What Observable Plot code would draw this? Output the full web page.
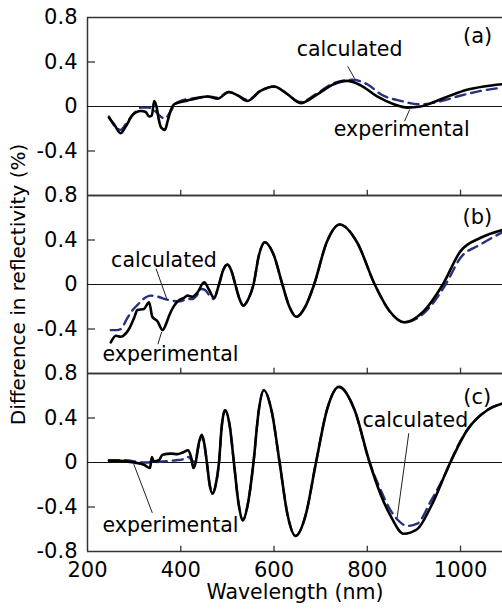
<!DOCTYPE html>
<html>
<head>
<meta charset="utf-8">
<script src="https://cdn.jsdelivr.net/npm/d3@7"></script>
<script src="https://cdn.jsdelivr.net/npm/@observablehq/plot@0.6"></script>
<style>
  html, body { margin: 0; padding: 0; background: #fff; overflow: hidden; }
</style>
</head>
<body>
<div id="chart"></div>
<script>
// ---- data (wavelength nm, difference in reflectivity %) ----
const panels = ["a", "b", "c"];
const expA = [[246,-0.10],[257,-0.16],[271,-0.24],[282,-0.18],[296,-0.08],[305,-0.05],[314,-0.04],[325,-0.05],[332,-0.09],[338,-0.08],[343,0.05],[348,0.00],[353,-0.12],[358,-0.19],[366,-0.21],[372,-0.13],[378,-0.04],[386,0.02],[400,0.04],[421,0.06],[440,0.08],[457,0.09],[479,0.07],[503,0.13],[522,0.10],[543,0.05],[571,0.14],[600,0.18],[629,0.11],[657,0.03],[693,0.11],[728,0.20],[757,0.23],[786,0.19],[821,0.09],[857,0.02],[886,-0.01],[914,0.00],[943,0.04],[979,0.10],[1014,0.15],[1050,0.18],[1090,0.20]];
const calcA = [[246,-0.09],[257,-0.17],[271,-0.21],[285,-0.14],[300,-0.06],[315,-0.01],[330,-0.01],[345,-0.04],[357,-0.09],[366,-0.11],[376,-0.06],[388,0.02],[400,0.05],[421,0.07],[440,0.08],[457,0.09],[479,0.08],[503,0.13],[522,0.10],[543,0.06],[571,0.14],[600,0.18],[629,0.11],[657,0.04],[693,0.12],[728,0.21],[768,0.24],[800,0.20],[829,0.11],[872,0.05],[914,0.02],[950,0.04],[993,0.09],[1043,0.14],[1090,0.17]];
const expB = [[250,-0.52],[261,-0.46],[271,-0.47],[280,-0.45],[289,-0.40],[300,-0.30],[307,-0.23],[321,-0.22],[332,-0.16],[339,-0.29],[350,-0.33],[361,-0.41],[368,-0.36],[375,-0.28],[386,-0.19],[397,-0.14],[407,-0.12],[414,-0.10],[425,-0.11],[436,-0.07],[450,0.02],[461,-0.05],[471,-0.12],[482,0.00],[491,0.13],[500,0.18],[508,0.13],[517,0.00],[526,-0.13],[534,-0.19],[545,-0.13],[556,0.00],[568,0.27],[580,0.38],[599,0.27],[618,0.00],[633,-0.20],[648,-0.29],[667,-0.20],[686,0.00],[713,0.38],[741,0.54],[778,0.38],[816,0.00],[848,-0.24],[880,-0.34],[921,-0.24],[962,0.00],[1000,0.30],[1043,0.42],[1090,0.49]];
const calcB = [[250,-0.41],[262,-0.41],[272,-0.40],[283,-0.32],[295,-0.24],[308,-0.18],[320,-0.13],[335,-0.10],[352,-0.11],[365,-0.13],[375,-0.14],[390,-0.15],[400,-0.15],[414,-0.13],[425,-0.13],[436,-0.09],[445,-0.04],[452,-0.05],[464,-0.11],[471,-0.13],[482,0.00],[491,0.13],[500,0.18],[508,0.13],[517,0.00],[526,-0.13],[534,-0.19],[545,-0.13],[556,0.00],[568,0.27],[580,0.38],[599,0.27],[618,0.00],[633,-0.20],[648,-0.29],[667,-0.20],[686,0.00],[713,0.38],[741,0.54],[778,0.38],[816,0.00],[848,-0.24],[880,-0.34],[921,-0.26],[968,0.00],[1000,0.24],[1043,0.36],[1090,0.47]];
const expC = [[246,0.015],[271,0.015],[300,0.00],[321,-0.02],[334,-0.05],[338,0.05],[342,0.01],[353,0.02],[361,0.07],[379,0.08],[393,0.075],[404,0.09],[416,0.11],[422,0.05],[427,-0.05],[432,0.00],[438,0.16],[445,0.25],[450,0.18],[456,0.00],[462,-0.20],[468,-0.28],[475,-0.20],[482,0.00],[488,0.33],[495,0.47],[505,0.33],[514,0.00],[524,-0.37],[533,-0.52],[544,-0.37],[556,0.00],[567,0.46],[578,0.65],[595,0.46],[612,0.00],[629,-0.47],[646,-0.66],[668,-0.47],[690,0.00],[714,0.48],[739,0.68],[772,0.48],[805,0.00],[828,-0.28],[850,-0.48],[878,-0.64],[907,-0.60],[936,-0.40],[978,0.00],[1014,0.29],[1057,0.47],[1090,0.53]];
const calcC = [[246,0.02],[280,0.02],[321,0.00],[364,0.01],[390,0.02],[405,0.03],[416,0.05],[424,0.02],[430,0.00],[438,0.14],[445,0.24],[450,0.18],[456,0.00],[462,-0.20],[468,-0.28],[475,-0.20],[482,0.00],[488,0.33],[495,0.47],[505,0.33],[514,0.00],[524,-0.37],[533,-0.52],[544,-0.37],[556,0.00],[567,0.46],[578,0.65],[595,0.46],[612,0.00],[629,-0.47],[646,-0.66],[668,-0.47],[690,0.00],[714,0.48],[739,0.68],[772,0.48],[805,0.00],[828,-0.24],[850,-0.43],[864,-0.51],[886,-0.57],[907,-0.55],[936,-0.35],[971,-0.07],[993,0.14],[1014,0.29],[1057,0.47],[1090,0.53]];

const xTicks = [200, 400, 600, 800, 1000];
const xInnerTicks = [400, 600, 800, 1000];
const yTicks = [0.8, 0.4, 0, -0.4];
const yInnerTicks = [0.4, -0.4];
const yTickBottom = [-0.8];
const yTitle = "Difference in reflectivity (%)";
const xTitle = "Wavelength (nm)";

// panel letters
const panelLabels = [
  {panel: "a", nm: 1068, v: 0.63, label: "(a)"},
  {panel: "b", nm: 1068, v: 0.60, label: "(b)"},
  {panel: "c", nm: 1066, v: 0.59, label: "(c)"}
];
// curve annotations
const annotations = [
  {panel: "a", nm: 762, v: 0.51, label: "calculated"},
  {panel: "a", nm: 874, v: -0.21, label: "experimental"},
  {panel: "b", nm: 364, v: 0.22, label: "calculated"},
  {panel: "b", nm: 378, v: -0.627, label: "experimental"},
  {panel: "c", nm: 903, v: 0.38, label: "calculated"},
  {panel: "c", nm: 378, v: -0.567, label: "experimental"}
];
const leaders = [
  {panel: "a", x1: 758, y1: 0.361, x2: 773, y2: 0.251},
  {panel: "a", x1: 891, y1: -0.027, x2: 880, y2: -0.132},
  {panel: "b", x1: 347, y1: 0.143, x2: 370, y2: -0.130},
  {panel: "b", x1: 359, y1: -0.427, x2: 351, y2: -0.537},
  {panel: "c", x1: 889, y1: 0.263, x2: 864, y2: -0.498},
  {panel: "c", x1: 299, y1: -0.012, x2: 339, y2: -0.453}
];

// ---- build table ----
const toRows = (arr, panel, series) => arr.map(([nm, v]) => ({panel, series, nm, v}));
const expRows = [...toRows(expA, "a", "experimental"), ...toRows(expB, "b", "experimental"), ...toRows(expC, "c", "experimental")];
const calcRows = [...toRows(calcA, "a", "calculated"), ...toRows(calcB, "b", "calculated"), ...toRows(calcC, "c", "calculated")];

const FONT = "DejaVu Sans";
const W = 502, H = 610, ML = 87, MR = 0, MT = 16, MB = 58;
const facetH = (H - MT - MB) / panels.length;
const frameW = W - ML - MR;

const chart = Plot.plot({
  width: W,
  height: H,
  marginLeft: ML,
  marginRight: MR,
  marginTop: MT,
  marginBottom: MB,
  style: {fontFamily: FONT, fontSize: "21px", background: "white", color: "black", overflow: "visible"},
  x: {domain: [200, 1090]},
  y: {domain: [-0.8, 0.8]},
  fy: {domain: panels, axis: null, padding: 0},
  marks: [
    // frame lines
    Plot.ruleY([0.8, -0.8], {stroke: "#333", strokeWidth: 1.5}),
    Plot.ruleX([200], {stroke: "#333", strokeWidth: 1.5}),
    // zero line
    Plot.ruleY([0], {stroke: "#111", strokeWidth: 1.2}),
    // inward ticks (every panel)
    Plot.tickX(xInnerTicks, {x: d => d, insetTop: facetH - 6, stroke: "#333", strokeWidth: 1.3}),
    Plot.tickY(yInnerTicks, {y: d => d, insetRight: frameW - 8, stroke: "#333", strokeWidth: 1.3}),
    // tick labels
    Plot.axisX({ticks: xTicks, tickSize: 0, tickPadding: 11, tickFormat: d => String(d), label: null, fontSize: 21}),
    Plot.axisY({ticks: yTicks, tickSize: 0, tickPadding: 10, tickFormat: d => String(d), label: null, fontSize: 21}),
    Plot.text(yTickBottom.map(v => ({panel: "c", v})), {fy: "panel", y: "v", frameAnchor: "left", dx: -10, textAnchor: "end", text: d => String(d.v), fontSize: 21}),
    // curves
    Plot.line(calcRows, {x: "nm", y: "v", fy: "panel", z: "panel", stroke: "#27307c", strokeWidth: 2.4, strokeDasharray: "10,6", curve: "monotone-x"}),
    Plot.line(expRows, {x: "nm", y: "v", fy: "panel", z: "panel", stroke: "#000", strokeWidth: 2.6, curve: "monotone-x"}),
    // annotations
    Plot.link(leaders, {x1: "x1", y1: "y1", x2: "x2", y2: "y2", fy: "panel", stroke: "#222", strokeWidth: 1}),
    Plot.text(annotations, {x: "nm", y: "v", fy: "panel", text: "label", fontSize: 20.5, textAnchor: "middle", lineAnchor: "middle"}),
    Plot.text(panelLabels, {x: "nm", y: "v", fy: "panel", text: "label", fontSize: 21, textAnchor: "end", lineAnchor: "middle"}),
    // axis titles
    Plot.text([{panel: "b", t: yTitle}], {fy: "panel", text: "t", frameAnchor: "left", rotate: -90, dx: -69, textAnchor: "middle", lineAnchor: "middle", fontSize: 20}),
    Plot.text([{panel: "c", t: xTitle}], {fy: "panel", text: "t", frameAnchor: "bottom", dy: 41, textAnchor: "middle", lineAnchor: "middle", fontSize: 20.5})
  ]
});
document.getElementById("chart").appendChild(chart);
</script>
</body>
</html>
